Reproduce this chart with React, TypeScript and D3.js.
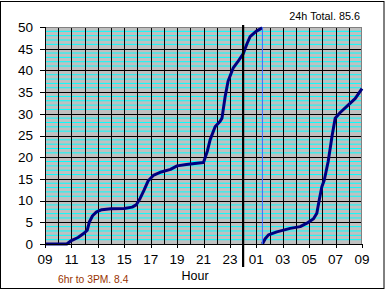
import React from "react";
import * as d3 from "d3";

// hours since 09:00
const day1Hours = [0, 1.65, 2.0, 2.5, 3.0, 3.2, 3.35, 3.6, 3.9, 4.3, 5.0, 6.0, 6.6, 6.9, 7.2, 7.5, 7.8, 8.2, 8.8, 9.5, 10.0, 10.7, 11.5, 12.0, 12.3, 12.5, 12.88, 13.26, 13.4, 13.64, 13.86, 14.24, 14.6, 15.0, 15.3, 15.53, 15.98, 16.44];
const day1Values = [0, 0, 0.8, 1.5, 2.6, 3.2, 5.0, 6.5, 7.4, 7.9, 8.1, 8.2, 8.5, 9.0, 10.5, 12.4, 14.5, 15.8, 16.6, 17.2, 18.0, 18.3, 18.6, 18.8, 21.5, 24, 27, 28.3, 29, 34, 37.5, 40.5, 42, 43.8, 46.2, 47.8, 49, 49.8];
const day2Hours = [16.46, 16.67, 16.92, 17.55, 18.56, 19.32, 19.83, 20.33, 20.58, 20.76, 20.96, 21.14, 21.44, 21.74, 21.97, 22.35, 22.95, 23.48, 24.0];
const day2Values = [0, 1.2, 2.1, 2.8, 3.6, 4.0, 4.8, 5.8, 7.1, 10.1, 13.2, 14.7, 19, 25, 29, 30.3, 32, 33.5, 35.8];

const xTickLabels = ["09", "11", "13", "15", "17", "19", "21", "23", "01", "03", "05", "07", "09"];
const yTicks = [0, 5, 10, 15, 20, 25, 30, 35, 40, 45, 50];
const midnightHour = 15;
const markerHour = 16.46;
const totalText = "24h Total. 85.6";
const subText = "6hr to 3PM. 8.4";
const xTitle = "Hour";

export default function App() {
  const W = 385, H = 290;
  const x = d3.scaleLinear().domain([0, 24]).range([45, 362]);
  const y = d3.scaleLinear().domain([0, 50]).range([244, 27]);
  const line = d3.line<[number, number]>().x(d => x(d[0])).y(d => y(d[1]));
  const s1 = day1Hours.map((h, i) => [h, day1Values[i]] as [number, number]);
  const s2 = day2Hours.map((h, i) => [h, day2Values[i]] as [number, number]);
  const minor = d3.range(1, 50).filter(v => v % 5 !== 0);
  const hours = d3.range(1, 24);
  const font = "'Liberation Sans', Arial, sans-serif";
  return (
    <svg width={W} height={H} style={{ position: "fixed", left: 0, top: 0, background: "#fff" }} fontFamily={font}>
      <rect x={0.5} y={1.5} width={383.5} height={287} fill="#fff" stroke="#000" strokeWidth={1} />
      <rect x={x(0)} y={y(50)} width={x(24) - x(0)} height={y(0) - y(50)} fill="#c0c0c0" />
      {minor.map(v => (
        <line key={"m" + v} x1={x(0)} x2={x(24)} y1={y(v)} y2={y(v)} stroke="#00ffff" strokeWidth={1} />
      ))}
      {yTicks.slice(1, -1).map(v => (
        <line key={"M" + v} x1={x(0)} x2={x(24)} y1={Math.round(y(v)) + 0.5} y2={Math.round(y(v)) + 0.5} stroke="#000" strokeWidth={1} />
      ))}
      {hours.map(h => (
        <line key={"h" + h} x1={Math.round(x(h)) + 0.5} x2={Math.round(x(h)) + 0.5} y1={y(50)} y2={y(0)} stroke="#000" strokeWidth={1} />
      ))}
      <line x1={x(0)} x2={x(24)} y1={y(50) + 0.5} y2={y(50) + 0.5} stroke="#808080" />
      <line x1={x(24) - 0.5} x2={x(24) - 0.5} y1={y(50)} y2={y(0)} stroke="#808080" />
      <path d={line(s1) || ""} fill="none" stroke="#000080" strokeWidth={3} strokeLinejoin="round" />
      <path d={line(s2) || ""} fill="none" stroke="#000080" strokeWidth={3} strokeLinejoin="round" />
      <line x1={x(markerHour)} x2={x(markerHour)} y1={y(50)} y2={y(0)} stroke="#3a6bff" strokeWidth={1} />
      <line x1={x(midnightHour)} x2={x(midnightHour)} y1={25} y2={267} stroke="#000" strokeWidth={2.2} />
      {/* axes */}
      <line x1={x(0) + 0.5} x2={x(0) + 0.5} y1={y(50)} y2={y(0)} stroke="#000" />
      <line x1={40} x2={x(24)} y1={Math.round(y(0)) + 0.5} y2={Math.round(y(0)) + 0.5} stroke="#000" />
      {yTicks.map(v => (
        <g key={"yt" + v}>
          <line x1={40} x2={45} y1={Math.round(y(v)) + 0.5} y2={Math.round(y(v)) + 0.5} stroke="#000" />
          <text x={33} y={y(v)} dy="0.36em" textAnchor="end" fontSize={13.5} fill="#000">{v}</text>
        </g>
      ))}
      {xTickLabels.map((t, i) => (
        <g key={"xt" + i}>
          <line x1={Math.round(x(i * 2)) + 0.5} x2={Math.round(x(i * 2)) + 0.5} y1={y(0)} y2={y(0) + 4} stroke="#000" />
          <text x={x(i * 2)} y={263.5} textAnchor="middle" fontSize={13.5} fill="#000">{t}</text>
        </g>
      ))}
      <text x={195} y={280} textAnchor="middle" fontSize={12.5} fill="#000">{xTitle}</text>
      <text x={360} y={20} textAnchor="end" fontSize={10.8} fill="#000">{totalText}</text>
      <text x={58} y={283} fontSize={10.3} fill="#993300">{subText}</text>
    </svg>
  );
}
